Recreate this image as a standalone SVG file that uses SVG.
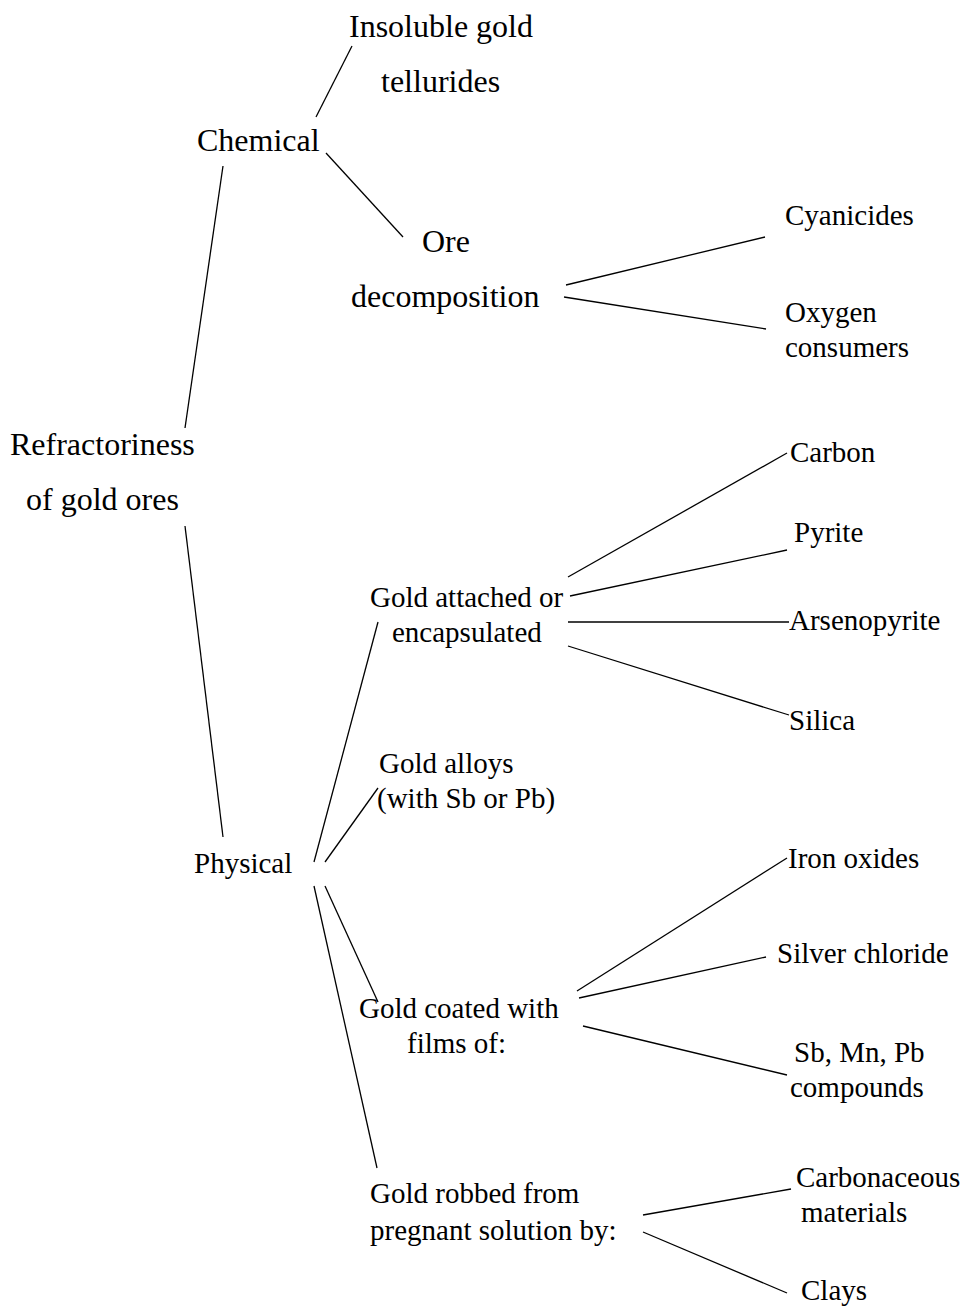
<svg xmlns="http://www.w3.org/2000/svg" width="963" height="1306" viewBox="0 0 963 1306">
<style>
text{font-family:"Liberation Serif","Times New Roman",serif;fill:#000}
.big{font-size:32px}
.sm{font-size:29px}
#connectors line{stroke:#000;stroke-width:1.3;fill:none}
</style>
<rect width="963" height="1306" fill="#fff"/>
<g id="connectors">
<line x1="223" y1="166" x2="185" y2="428"/>
<line x1="185" y1="526" x2="223" y2="837"/>
<line x1="316" y1="117" x2="352" y2="46"/>
<line x1="326" y1="153" x2="403" y2="237"/>
<line x1="566" y1="285" x2="765" y2="237"/>
<line x1="564" y1="297" x2="766" y2="329"/>
<line x1="314" y1="862" x2="378" y2="622"/>
<line x1="325" y1="862" x2="378" y2="788"/>
<line x1="325" y1="886" x2="378" y2="1002"/>
<line x1="314" y1="886" x2="377" y2="1168"/>
<line x1="568" y1="577" x2="787" y2="453"/>
<line x1="570" y1="596" x2="787" y2="550"/>
<line x1="568" y1="622" x2="789" y2="622"/>
<line x1="568" y1="646" x2="789" y2="715"/>
<line x1="577" y1="991" x2="787" y2="858"/>
<line x1="579" y1="998" x2="766" y2="957"/>
<line x1="583" y1="1026" x2="787" y2="1075"/>
<line x1="643" y1="1215" x2="791" y2="1189"/>
<line x1="643" y1="1232" x2="787" y2="1293"/>
</g>
<g id="root"><text class="big" x="10" y="455">Refractoriness</text><text class="big" x="26" y="510">of gold ores</text></g>
<g id="chemical"><text class="big" x="197" y="151">Chemical</text></g>
<g id="tellurides"><text class="big" x="349" y="37">Insoluble gold</text><text class="big" x="381" y="92">tellurides</text></g>
<g id="ore"><text class="big" x="422" y="252">Ore</text><text class="big" x="351" y="307">decomposition</text></g>
<g id="cyanicides"><text class="sm" x="785" y="225">Cyanicides</text></g>
<g id="oxygen"><text class="sm" x="785" y="322">Oxygen</text><text class="sm" x="785" y="357">consumers</text></g>
<g id="physical"><text class="sm" x="194" y="873">Physical</text></g>
<g id="attached"><text class="sm" x="370" y="607">Gold attached or</text><text class="sm" x="392" y="642">encapsulated</text></g>
<g id="carbon"><text class="sm" x="790" y="462">Carbon</text></g>
<g id="pyrite"><text class="sm" x="794" y="542">Pyrite</text></g>
<g id="arsenopyrite"><text class="sm" x="789" y="630">Arsenopyrite</text></g>
<g id="silica"><text class="sm" x="789" y="730">Silica</text></g>
<g id="alloys"><text class="sm" x="379" y="773">Gold alloys</text><text class="sm" x="377" y="808">(with Sb or Pb)</text></g>
<g id="coated"><text class="sm" x="359" y="1018">Gold coated with</text><text class="sm" x="407" y="1053">films of:</text></g>
<g id="ironoxides"><text class="sm" x="788" y="868">Iron oxides</text></g>
<g id="silverchloride"><text class="sm" x="777" y="963">Silver chloride</text></g>
<g id="sbmnpb"><text class="sm" x="794" y="1062">Sb, Mn, Pb</text><text class="sm" x="790" y="1097">compounds</text></g>
<g id="robbed"><text class="sm" x="370" y="1203">Gold robbed from</text><text class="sm" x="370" y="1240">pregnant solution by:</text></g>
<g id="carbonaceous"><text class="sm" x="796" y="1187">Carbonaceous</text><text class="sm" x="801" y="1222">materials</text></g>
<g id="clays"><text class="sm" x="801" y="1300">Clays</text></g>
</svg>
